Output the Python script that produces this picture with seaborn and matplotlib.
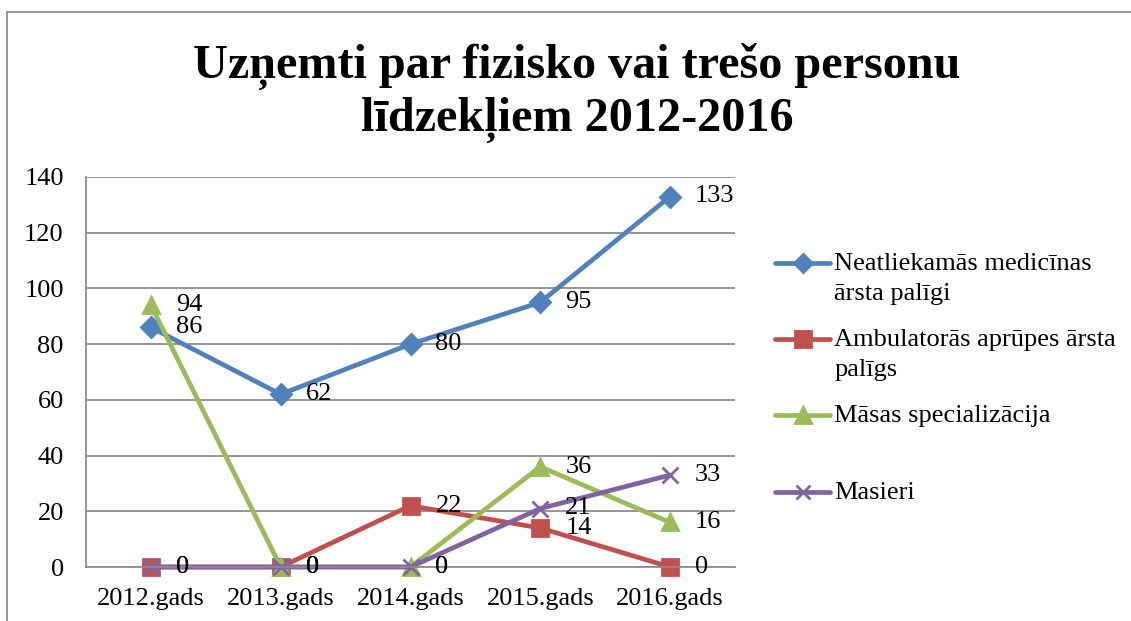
import pandas as pd
import seaborn as sns
import matplotlib.pyplot as plt
from matplotlib.lines import Line2D
from matplotlib.transforms import Affine2D

years = ['2012.gads', '2013.gads', '2014.gads', '2015.gads', '2016.gads']
series_names = ['Neatliekamās medicīnas\nārsta palīgi',
                'Ambulatorās aprūpes ārsta\npalīgs',
                'Māsas specializācija\n',
                'Masieri\n']
neatliekamas = [86, 62, 80, 95, 133]
ambulatoras = [0, 0, 22, 14, 0]
masas = [94, 0, 0, 36, 16]
masieri = [0, 0, 0, 21, 33]
colors = ['#4F81BD', '#C0504D', '#9BBB59', '#8064A2']
markers = ['D', 's', '^', 'x']
msizes = [10, 12, 12, 11]

sns.set_style('white')
plt.rcParams['font.family'] = ['Liberation Serif', 'DejaVu Serif']
plt.rcParams['text.color'] = 'black'

all_vals = [neatliekamas, ambulatoras, masas, masieri]

fig = plt.figure(figsize=(11.31, 6.21), dpi=100)
ax = fig.add_axes([86 / 1131, 1 - 567 / 621, (735 - 86) / 1131, (567 - 177) / 621])

#one lineplot per series so each keeps its own marker
for vals, c, m, ms in zip(all_vals, colors, markers, msizes):
    df = pd.DataFrame({'gads': years, 'vertiba': vals})
    sns.lineplot(data=df, x='gads', y='vertiba', color=c, marker=m, linewidth=3.4,
                 markersize=ms, markeredgewidth=2, markeredgecolor=c, ax=ax,
                 clip_on=False)

#data labels right of each point
for vals in all_vals:
    for i, v in enumerate(vals):
        ax.annotate(str(v), (i, v), xytext=(18, 0), textcoords='offset points',
                    va='center', ha='left', fontsize=19, color='black')

ax.set_xlim(-0.5, 4.5)
ax.set_ylim(0, 140)
ax.set_yticks(range(0, 141, 20))
ax.set_xlabel('')
ax.set_ylabel('')
ax.grid(axis='y', color='#8c8c8c', linewidth=1.3)
ax.set_axisbelow(True)
for s in ['top', 'right']:
    ax.spines[s].set_visible(False)
for s in ['left', 'bottom']:
    ax.spines[s].set_color('#8c8c8c')
    ax.spines[s].set_linewidth(1.3)
ax.tick_params(axis='y', labelsize=19, length=2, color='#8c8c8c', labelcolor='black', pad=14)
ax.tick_params(axis='x', labelsize=19, length=0, labelcolor='black', pad=15)

handles = [Line2D([], [], color=c, marker=m, linewidth=3.4, markersize=ms - 1,
                  markeredgewidth=2, markeredgecolor=c)
           for c, m, ms in zip(colors, markers, msizes)]
leg = fig.legend(handles, series_names, loc='upper left',
                 bbox_to_anchor=(775 / 1131, 1 - 253 / 621), frameon=False,
                 fontsize=19, handlelength=2.1, handletextpad=0.15,
                 labelspacing=0.93, borderpad=0, borderaxespad=0)
for t in leg.get_texts():
    t.set_linespacing(1.45)
    t.set_color('black')
#Excel puts the marker on the first text line
for h in leg.legend_handles:
    h.set_transform(h.get_transform() + Affine2D().translate(0, 15))

fig.text(577 / 1131, 1 - 93 / 621, 'Uzņemti par fizisko vai trešo personu\nlīdzekļiem 2012-2016',
         ha='center', va='center', fontsize=34.7, fontweight='bold', linespacing=1.22,
         color='black')

#outer chart border
fig.add_artist(Line2D([7 / 1131, 7 / 1131], [0, 1 - 12 / 621], transform=fig.transFigure,
                      color='#8c8c8c', linewidth=1.3))
fig.add_artist(Line2D([7 / 1131, 1], [1 - 12 / 621, 1 - 12 / 621], transform=fig.transFigure,
                      color='#8c8c8c', linewidth=1.3))

plt.savefig('out.png', dpi=100)
